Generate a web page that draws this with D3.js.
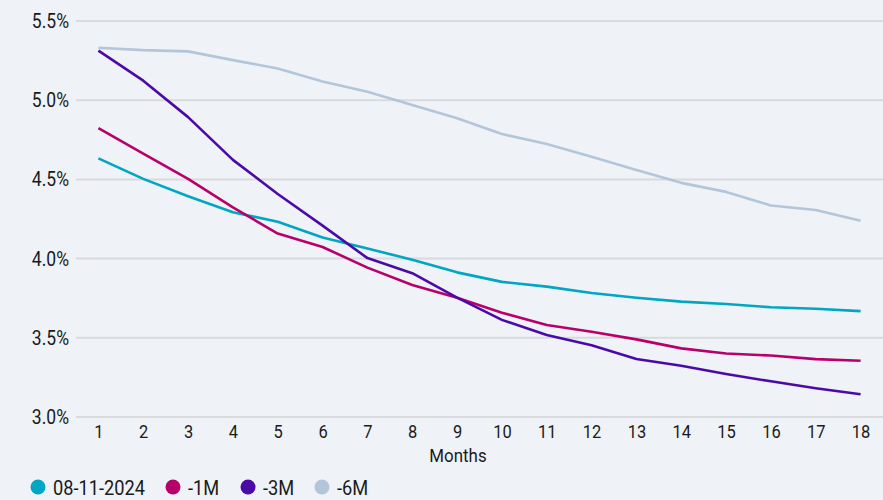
<!DOCTYPE html>
<html><head><meta charset="utf-8">
<script src="https://cdn.jsdelivr.net/npm/d3@7"></script>
<style>
html,body{margin:0;padding:0;background:#eff3f7;}
svg{display:block;font-family:Roboto, "Noto Sans", sans-serif;}
</style></head>
<body><svg id="c" width="883" height="500"></svg>
<script>
const months = [1,2,3,4,5,6,7,8,9,10,11,12,13,14,15,16,17,18];
const seriesNames = ["08-11-2024","-1M","-3M","-6M"];
const seriesColors = ["#00a6c2","#b8006b","#4b0aa8","#b3c6d9"];
const current = [4.63,4.50,4.39,4.29,4.23,4.13,4.06,3.99,3.91,3.85,3.82,3.78,3.75,3.725,3.71,3.69,3.68,3.665];
const minus1M = [4.82,4.66,4.50,4.32,4.155,4.07,3.94,3.83,3.75,3.655,3.578,3.535,3.487,3.43,3.398,3.385,3.362,3.352];
const minus3M = [5.31,5.12,4.89,4.62,4.405,4.205,4.00,3.905,3.75,3.61,3.515,3.45,3.363,3.32,3.268,3.222,3.178,3.14];
const minus6M = [5.328,5.313,5.305,5.25,5.197,5.115,5.05,4.966,4.883,4.783,4.72,4.64,4.556,4.475,4.418,4.332,4.304,4.236];
const yTicks = [3.0,3.5,4.0,4.5,5.0,5.5];
const xTitle = "Months";

(function(){
const allSeries = [current, minus1M, minus3M, minus6M];
const svg = d3.select("#c");
const mLeft = 76, mRight = 883, mTop = 20.5, mBottom = 416.5;
const SX = 0.89;

const x = d3.scalePoint().domain(months).range([mLeft, mRight]).padding(0.5);
const y = d3.scaleLinear().domain([3.0, 5.5]).range([mBottom, mTop]);

const yAxis = d3.axisLeft(y).tickValues(yTicks).tickSize(-(mRight-mLeft)).tickFormat(d => d3.format(".1f")(d) + "%");
const gy = svg.append("g").attr("transform", `translate(${mLeft},0)`).call(yAxis);
gy.select(".domain").remove();
gy.selectAll(".tick line").attr("stroke", "#d9dadc").attr("stroke-width", 2);
gy.selectAll(".tick text").attr("x", -7/SX).attr("dy","0.36em").attr("font-size", 19.7).attr("fill", "#1a1a1a")
  .attr("font-family","Roboto").attr("transform", `scale(${SX},1)`);

const xAxis = d3.axisBottom(x).tickSize(0).tickPadding(0);
const gx = svg.append("g").attr("transform", `translate(0,${mBottom})`).call(xAxis);
gx.select(".domain").remove();
gx.selectAll(".tick text").attr("dy", "0").attr("y", 21.5).attr("font-size", 18.5).attr("font-family","Roboto")
  .attr("fill", "#1a1a1a").attr("transform", `scale(${SX},1)`);

svg.append("g").attr("transform","translate(458,462)").append("text").attr("text-anchor","middle")
  .attr("font-size", 19).attr("fill", "#1a1a1a").attr("transform", `scale(${SX},1)`).text(xTitle);

const line = d3.line().x((d,i) => x(months[i])).y(d => y(d));
[3,0,1,2].forEach(k => {
  svg.append("path").datum(allSeries[k]).attr("d", line)
    .attr("fill","none").attr("stroke", seriesColors[k]).attr("stroke-width", 2.6)
    .attr("stroke-linejoin","round");
});

const legendX = [38, 173, 248, 322];
const lg = svg.append("g");
seriesNames.forEach((n,i) => {
  const g = lg.append("g").attr("transform", `translate(${legendX[i]},487)`);
  g.append("circle").attr("r", 7.5).attr("fill", seriesColors[i]);
  g.append("g").attr("transform","translate(15,7.5)").append("text").attr("font-size", 20.5).attr("fill","#1a1a1a")
    .attr("transform", `scale(${SX},1)`).text(n);
});
})();
</script></body></html>
